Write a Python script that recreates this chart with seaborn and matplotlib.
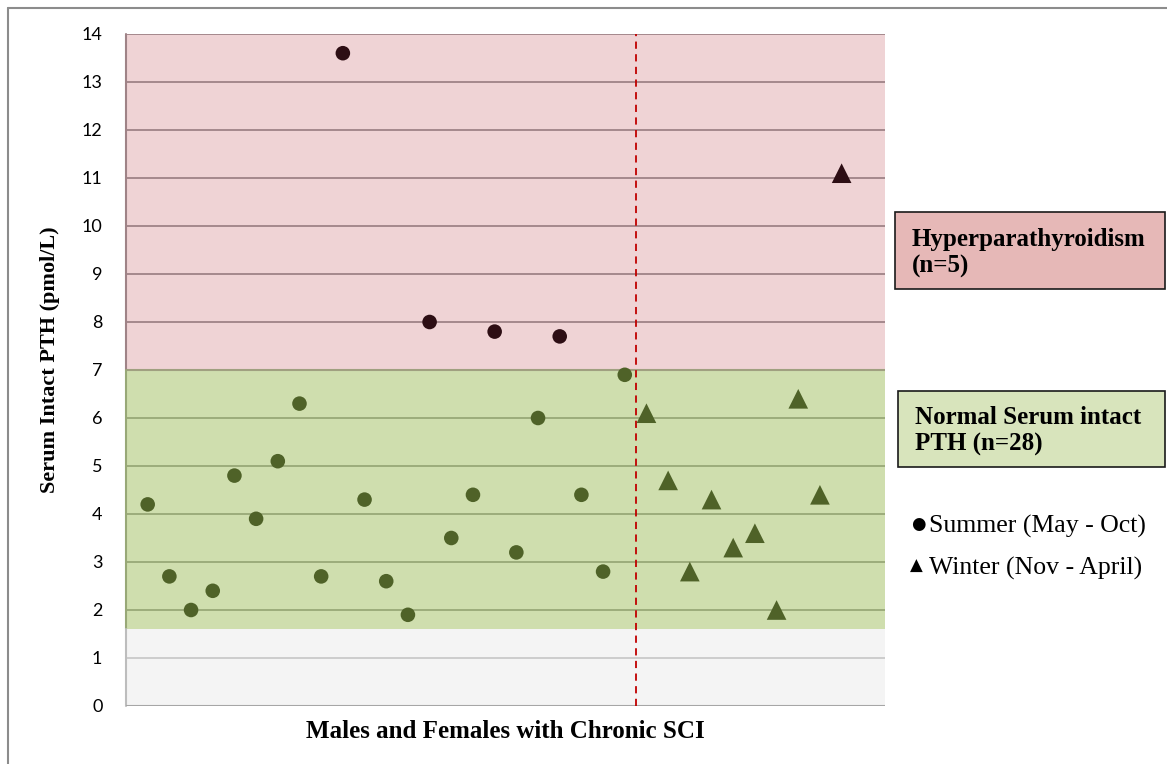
import numpy as np
import pandas as pd
import matplotlib
matplotlib.use("Agg")
import matplotlib.pyplot as plt
import seaborn as sns
from matplotlib.patches import Rectangle
from matplotlib.lines import Line2D

# ---- data ----
summer_pth = [4.2, 2.7, 2.0, 2.4, 4.8, 3.9, 5.1, 6.3, 2.7, 13.6, 4.3, 2.6, 1.9,
              8.0, 3.5, 4.4, 7.8, 3.2, 6.0, 7.7, 4.4, 2.8, 6.9]
winter_pth = [6.1, 4.7, 2.8, 4.3, 3.3, 3.6, 2.0, 6.4, 4.4, 11.1]
y_ticks = list(range(0, 15))
normal_upper = 7.0
normal_lower = 1.6
y_label = "Serum Intact PTH (pmol/L)"
x_label = "Males and Females with Chronic SCI"
box_hyper = "Hyperparathyroidism\n(n=5)"
box_normal = "Normal Serum intact\nPTH (n=28)"
leg_summer = "Summer (May - Oct)"
leg_winter = "Winter (Nov - April)"

n_s = len(summer_pth)
n_w = len(winter_pth)
df = pd.DataFrame({
    "idx": np.arange(1, n_s + n_w + 1),
    "pth": summer_pth + winter_pth,
    "season": ["Summer"] * n_s + ["Winter"] * n_w,
})
df["group"] = np.where(df["pth"] > normal_upper, "Hyper", "Normal")

sns.set_theme(style="white")
plt.rcParams["font.family"] = ["Lato", "DejaVu Sans"]
plt.rcParams["text.color"] = "black"

fig = plt.figure(figsize=(11.67, 7.64), dpi=100)
ax = fig.add_axes([126 / 1167, 1 - 706 / 764, (885 - 126) / 1167, (706 - 34) / 764])

xmax = n_s + n_w + 2
ax.set_xlim(0, xmax)
ax.set_ylim(0, 14)

# bands
c_red, c_green, c_gray = "#efd3d5", "#cfdeae", "#f4f4f4"
ax.axhspan(normal_upper, 14, color=c_red, zorder=0, lw=0)
ax.axhspan(normal_lower, normal_upper, color=c_green, zorder=0, lw=0)
ax.axhspan(0, normal_lower, color=c_gray, zorder=0, lw=0)

# gridlines coloured per band
for t in y_ticks[1:]:
    if t > normal_upper:
        col = "#9f8387"
    elif t >= normal_lower:
        col = "#98a877"
    else:
        col = "#c9c9c9"
    ax.axhline(t, color=col, lw=1.3, zorder=1)
ax.axhline(normal_upper, color="#a0a080", lw=1.5, zorder=1)

# left axis line per band
ax.plot([0, 0], [normal_upper, 14], color="#9f8387", lw=1.5, zorder=2, clip_on=False)
ax.plot([0, 0], [normal_lower, normal_upper], color="#98a877", lw=1.5, zorder=2, clip_on=False)
ax.plot([0, 0], [0, normal_lower], color="#bdbdbd", lw=1.5, zorder=2, clip_on=False)
ax.axhline(0, color="#a6a6a6", lw=1.5, zorder=2)

palette = {"Hyper": "#2d0e14", "Normal": "#4f6228"}
sns.scatterplot(data=df[df.season == "Summer"], x="idx", y="pth", hue="group",
                palette=palette, marker="o", s=110, linewidth=0, legend=False,
                ax=ax, zorder=4)
sns.scatterplot(data=df[df.season == "Winter"], x="idx", y="pth", hue="group",
                palette=palette, marker="^", s=200, linewidth=0, legend=False,
                ax=ax, zorder=4)

# season divider
ax.axvline(n_s + 0.5, color="#c00000", lw=1.3, ls=(0, (4, 3)), zorder=3)

for s in ax.spines.values():
    s.set_visible(False)
ax.set_xticks([])
ax.set_yticks(y_ticks)
ax.set_yticklabels([str(t) for t in y_ticks], fontsize=13, color="black")
ax.tick_params(axis="y", length=0, pad=17)
ax.set_xlabel("")
ax.set_ylabel("")

serif = ["Liberation Serif", "DejaVu Serif"]
fig.text(50 / 1167, 1 - 360 / 764, y_label, rotation=90, ha="center", va="center",
         fontsize=16, fontweight="bold", family=serif, color="black")
fig.text(505 / 1167, 1 - 731 / 764, x_label, ha="center", va="center",
         fontsize=18, fontweight="bold", family=serif, color="black")

# annotation boxes
def fbox(x0, y0, x1, y1, fc):
    fig.patches.append(Rectangle((x0 / 1167, 1 - y1 / 764), (x1 - x0) / 1167,
                                 (y1 - y0) / 764, transform=fig.transFigure,
                                 facecolor=fc, edgecolor="#1a1a1a", lw=1.2))

fbox(895, 212, 1165, 289, "#e6b8b7")
fig.text(912 / 1167, 1 - 253 / 764, box_hyper, ha="left", va="center", fontsize=18,
         fontweight="bold", family=serif, linespacing=1.2, color="black")
fbox(898, 391, 1165, 467, "#d8e4bc")
fig.text(915 / 1167, 1 - 431 / 764, box_normal, ha="left", va="center", fontsize=18,
         fontweight="bold", family=serif, linespacing=1.2, color="black")

# season legend
fig.text(911 / 1167, 1 - 524 / 764, "\u25CF", ha="left", va="center", fontsize=12,
         color="black", family=["DejaVu Sans"])
fig.text(929 / 1167, 1 - 526 / 764, leg_summer, ha="left", va="center", fontsize=18.5,
         family=serif, color="black")
fig.text(910 / 1167, 1 - 566 / 764, "\u25B2", ha="left", va="center", fontsize=12,
         color="black", family=["DejaVu Sans"])
fig.text(929 / 1167, 1 - 568 / 764, leg_winter, ha="left", va="center", fontsize=18.5,
         family=serif, color="black")

# outer frame (left and top)
fig.add_artist(Line2D([8 / 1167, 8 / 1167], [0, 1 - 8 / 764], transform=fig.transFigure,
                      color="#8c8c8c", lw=1.5))
fig.add_artist(Line2D([8 / 1167, 1], [1 - 8 / 764, 1 - 8 / 764], transform=fig.transFigure,
                      color="#8c8c8c", lw=1.5))

fig.savefig("out.png", dpi=100)
